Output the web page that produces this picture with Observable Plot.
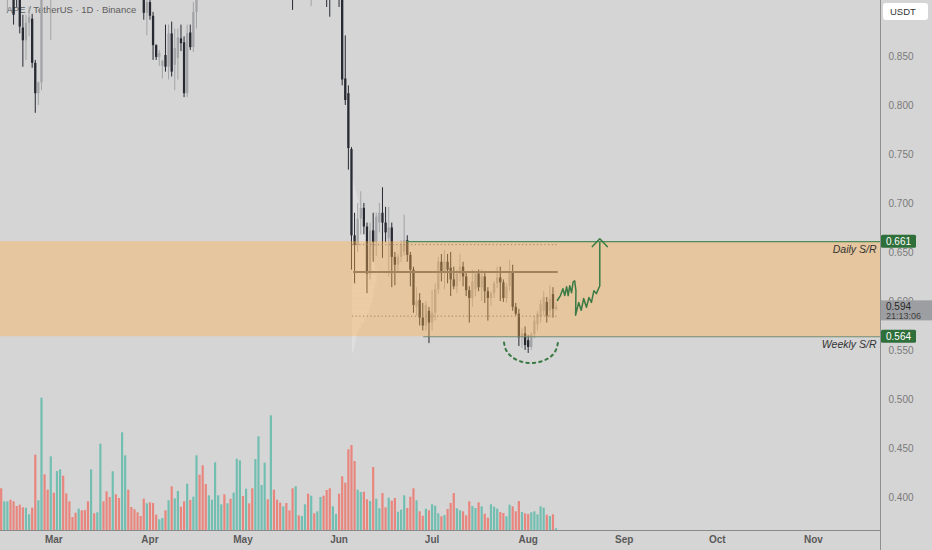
<!DOCTYPE html>
<html><head><meta charset="utf-8">
<script src="https://cdn.jsdelivr.net/npm/d3@7"></script>
<script src="https://cdn.jsdelivr.net/npm/@observablehq/plot@0.6"></script>
<style>
html,body{margin:0;padding:0;background:#d5d5d5;}
#wrap{position:relative;width:932px;height:550px;overflow:hidden;}
#wrap svg{position:absolute;left:0;top:0;}
</style></head><body><div id="wrap"></div>
<script>
// ---------- DATA ----------
const title = "APE / TetherUS · 1D · Binance";
const startDay = Date.UTC(2025, 1, 12); // first candle: Feb 12
const open = [.960,.935,.950,.955,.925,.925,.915,.879,.866,.884,
.888,.843,.812,.823,.935,.925,.912,.960,.940,.990,
1.03,1.00,.980,.960,.950,.940,.970,.960,.950,.935,
.990,.980,.990,1.06,1.04,1.01,.990,1.05,1.02,1.00,
1.08,1.12,1.06,1.02,.980,.950,.935,.894,.905,.891,
.861,.849,.840,.851,.839,.873,.841,.848,.868,.864,
.812,.874,.859,.895,.960,.950,.940,.930,.960,.990,
1.05,1.07,1.09,1.06,1.08,1.05,1.08,1.13,1.17,1.13,
1.16,1.13,1.08,1.13,1.20,1.22,1.26,1.20,1.30,1.22,
1.15,1.08,1.10,1.04,.990,.940,1.00,.970,.980,1.00,
.960,.980,.960,.970,.990,.970,.950,.930,.940,.950,
.935,.827,.812,.755,.667,.657,.684,.695,.676,.628,
.672,.660,.680,.690,.680,.664,.675,.645,.637,.645,
.650,.662,.647,.632,.594,.601,.583,.575,.590,.578,
.588,.612,.640,.630,.640,.634,.622,.615,.628,.635,
.625,.611,.603,.612,.628,.614,.625,.610,.603,.608,
.618,.624,.619,.603,.615,.630,.594,.587,.563,.567,
.560,.553,.566,.576,.584,.590,.599,.590,.607,.592];
const high = [.975,.960,.965,.958,.930,.930,.925,.892,.892,.900,
.893,.846,.824,.950,.960,.940,.980,.970,1.00,1.05,
1.04,1.01,.990,.970,.960,.980,.975,.970,.960,1.00,
1.00,1.00,1.08,1.07,1.05,1.02,1.07,1.06,1.03,1.10,
1.15,1.13,1.07,1.03,.990,.960,.940,.920,.910,.895,
.862,.856,.846,.882,.882,.885,.878,.878,.882,.870,
.882,.882,.905,.980,.970,.960,.945,.970,1.00,1.07,
1.09,1.10,1.10,1.09,1.09,1.10,1.15,1.19,1.18,1.18,
1.17,1.14,1.15,1.23,1.25,1.29,1.27,1.33,1.31,1.23,
1.16,1.12,1.11,1.05,1.00,1.02,1.01,.990,1.02,1.01,
.990,.990,.980,1.00,1.00,.980,.960,.950,.960,.960,
.950,.871,.820,.757,.690,.700,.712,.700,.680,.680,
.690,.690,.700,.716,.696,.696,.680,.650,.648,.662,
.688,.667,.650,.635,.614,.608,.598,.600,.594,.611,
.618,.645,.648,.652,.648,.650,.635,.632,.648,.640,
.630,.615,.632,.630,.632,.632,.630,.614,.610,.620,
.635,.635,.622,.618,.642,.637,.598,.592,.572,.574,
.565,.568,.585,.590,.601,.610,.604,.616,.614,.598];
const low = [.925,.915,.895,.915,.882,.900,.873,.839,.846,.870,
.838,.792,.800,.815,.915,.908,.866,.930,.930,.980,
.990,.970,.950,.940,.930,.930,.950,.940,.925,.930,
.970,.975,.980,1.03,1.00,.980,.985,1.01,.990,.990,
1.06,1.05,1.01,.970,.940,.925,.887,.871,.887,.846,
.846,.840,.827,.834,.826,.829,.815,.826,.855,.808,
.808,.856,.854,.878,.940,.925,.915,.925,.950,.985,
1.04,1.06,1.05,1.05,1.04,1.04,1.07,1.12,1.12,1.12,
1.12,1.07,1.07,1.12,1.18,1.20,1.18,1.18,1.20,1.12,
1.05,1.05,1.02,.960,.897,.930,.950,.950,.960,.940,
.901,.940,.930,.950,.950,.900,.890,.910,.920,.900,
.820,.800,.734,.632,.618,.650,.668,.668,.608,.622,
.640,.646,.670,.644,.660,.625,.614,.616,.630,.640,
.646,.640,.615,.588,.585,.575,.570,.570,.557,.570,
.580,.607,.620,.612,.618,.605,.612,.608,.620,.615,
.605,.578,.594,.605,.610,.600,.598,.580,.595,.603,
.613,.600,.599,.598,.610,.590,.585,.554,.552,.550,
.547,.550,.562,.570,.578,.585,.578,.583,.583,.590];
const close = [.935,.950,.955,.925,.892,.910,.880,.866,.884,.890,
.843,.812,.823,.935,.925,.912,.960,.940,.990,1.03,
1.00,.980,.960,.950,.940,.970,.960,.950,.935,.990,
.980,.990,1.06,1.04,1.01,.990,1.05,1.02,1.00,1.08,
1.12,1.06,1.02,.980,.950,.935,.894,.905,.891,.861,
.849,.853,.845,.839,.873,.834,.858,.869,.863,.812,
.873,.859,.895,.960,.950,.940,.930,.960,.990,1.05,
1.07,1.09,1.06,1.08,1.05,1.08,1.13,1.17,1.13,1.16,
1.13,1.08,1.13,1.20,1.22,1.26,1.20,1.30,1.22,1.15,
1.08,1.10,1.04,.990,.940,1.00,.970,.980,1.00,.960,
.980,.960,.970,.990,.970,.950,.930,.940,.950,.935,
.826,.805,.756,.667,.657,.684,.695,.676,.628,.672,
.660,.686,.690,.680,.670,.675,.645,.637,.645,.658,
.662,.647,.632,.596,.600,.583,.575,.596,.578,.588,
.612,.640,.630,.640,.632,.622,.615,.628,.635,.625,
.611,.603,.620,.628,.614,.625,.610,.603,.608,.618,
.624,.619,.603,.615,.630,.594,.587,.563,.567,.555,
.553,.566,.580,.587,.597,.604,.585,.602,.592,.594];
const volume = [41.7,28.7,28.7,30.3,28.7,24,25.3,22.7,22.3,15.7,
22.3,75.3,29.7,132.3,55.7,40.3,73.7,37.3,59,60.7,
54.3,36.7,28.7,13,17.3,21.3,19.7,20,28.7,60.7,
16.7,17.7,86.3,28.7,38.7,33,58.7,35.7,32,97.7,
74.7,40.3,23,20.7,17.7,14,31.3,26.7,27.7,27,
15.3,10.7,12,19.7,29.7,43.7,31.7,39,23.3,28.7,
46.3,30,33.3,74.7,55.3,64.7,46,34.7,30.3,67.7,
34.7,25.7,35.7,26.7,31.3,37.3,71.3,69.7,34,41.3,
26.7,41.7,71,93.7,45,67.3,30.7,114.7,40.3,30.3,
27.3,23.7,27,19.7,41.7,43.7,14.7,14,25.7,36.3,
34.3,16.7,18.7,33,34.3,40,41.7,23.7,16,36.3,
53.7,47.3,80.7,85,69,40.3,38,38.3,30.7,29,
63,31.3,21.7,37,22.7,32.3,29.3,32,18.3,20.3,
34.7,22,33.3,41.7,29.7,18.7,14.3,21.3,19.7,25.7,
24.3,16.7,13.7,15,21,27,37,21.7,19.7,18.7,
14.7,28.7,24,22,27.7,23.7,16.3,12.3,25.7,23.3,
21.3,18,17,13.7,25.3,23.7,18.7,29,18,16.7,
16,17.7,18.7,15.7,23.7,22.3,15.3,14,15.7,1.7];

// price ticks & levels
const priceTicks = [0.40,0.45,0.50,0.55,0.60,0.65,0.70,0.75,0.80,0.85];
const dailySR = 0.661, weeklySR = 0.564, lastPrice = 0.594, countdown = "21:13:06", currency = "USDT";
const dailyFromDay = 131, weeklyFromDay = 136.3;
const pocPrice = 0.630, vaHigh = 0.658, vaLow = 0.585, profileFromDay = 113.3, profileToDay = 179.7;
// visible-range volume profile (price level, length in days)
const profilePrice = [0.550,0.555,0.560,0.565,0.570,0.575,0.580,0.585,0.590,0.595,0.600,0.605,0.610,0.615,0.620,0.625,0.630,0.635,0.640,0.645,0.650,0.655,0.660,0.665,0.670,0.675,0.680,0.685,0.690,0.695,0.700,0.705,0.710,0.715,0.720];
const profileDays  = [0.6,0.9,1.2,1.6,2.2,3.0,4.0,5.0,5.5,6.0,6.5,7.0,7.0,7.5,8.0,8.0,8.5,7.5,7.0,6.5,6.0,5.5,5.5,6.0,5.5,5.0,4.5,4.0,3.5,2.8,2.2,1.8,1.4,1.0,0.7];
// hand-drawn projection (days from first candle, price)
const pathDays   = [179.4,180.4,181.2,181.8,182.4,182.9,183.4,184.0,184.5,185.0,185.4,185.3,186.3,187.1,187.9,188.8,189.6,190.4,191.2,192.0,193.1,193.1];
const pathPrices = [.601,.606,.613,.606,.615,.606,.616,.609,.620,.621,.611,.586,.599,.591,.603,.594,.604,.599,.611,.608,.616,.660];
const headDays   = [190.7,193.1,195.5];
const headPrices = [.656,.664,.656];
const arcDays    = [162.2,162.9,164.8,167.6,170.9,174.2,177.1,178.9,179.6];
const arcPrices  = [.5581,.5502,.5433,.5388,.5372,.5388,.5433,.5502,.5581];

// ---------- BUILD ----------
const DAY = 86400000;
const day = d => new Date(startDay + d * DAY);
const xDomain = [day(-0.216), day(283.65)];
const yDomain = [0.3663, 0.9071];
const UP = "#a3a4a7", DOWN = "#272a33", VUP = "#72bfb2", VDOWN = "#e8867e", GREEN = "#3b7a45";
const candles = open.map((o, i) => ({date: day(i), open: o, high: high[i], low: low[i], close: close[i], up: close[i] >= o, vol: volume[i]}));
const profile = profilePrice.map((p, i) => ({p, len: profileDays[i]}));
const toPts = (ds, ps) => ds.map((d, i) => ({x: day(d), y: ps[i]}));
const FONT = "'Liberation Sans', Arial, sans-serif";

const common = {width: 932, height: 550, marginTop: 0, marginRight: 52, marginBottom: 20, marginLeft: 0};

const main = Plot.plot({
  ...common,
  style: {background: "#d5d5d5", fontFamily: FONT, fontSize: "10px", overflow: "hidden"},
  x: {type: "utc", domain: xDomain},
  y: {domain: yDomain},
  color: {type: "identity"},
  marks: [
    Plot.text([title], {text: d => d, frameAnchor: "top-left", dx: 6, dy: 6, lineAnchor: "top", fontSize: 9.5, fill: "#5c5c5c"}),
    Plot.rect(profile, {x1: () => day(profileFromDay), x2: d => day(profileFromDay + d.len), y1: d => d.p - 0.0025, y2: d => d.p + 0.0025, fill: "#e0e0e0", fillOpacity: 0.85}),
    Plot.ruleX(candles, {x: "date", y1: "low", y2: "high", stroke: d => d.up ? UP : DOWN, strokeWidth: 1, clip: true}),
    Plot.ruleX(candles, {x: "date", y1: "open", y2: "close", stroke: d => d.up ? UP : DOWN, strokeWidth: 2.3, clip: true}),
    Plot.ruleY([pocPrice], {x1: () => day(profileFromDay + 0.4), x2: () => day(profileToDay), stroke: "#666", strokeWidth: 2}),
    Plot.ruleY([vaHigh, vaLow], {x1: () => day(profileFromDay), x2: () => day(profileToDay), stroke: "#666", strokeWidth: 1, strokeDasharray: "1.2,2.5"}),
    Plot.rect([{lo: weeklySR, hi: dailySR}], {x1: () => xDomain[0], x2: () => xDomain[1], y1: "lo", y2: "hi", fill: "#fcaf4b", fillOpacity: 0.4}),
    Plot.ruleY([dailySR], {x1: () => day(dailyFromDay), x2: () => xDomain[1], stroke: "#4e8c5a", strokeWidth: 1.2}),
    Plot.ruleY([weeklySR], {x1: () => day(weeklyFromDay), x2: () => xDomain[1], stroke: "#768a6e", strokeWidth: 1.2}),
    Plot.line(toPts(pathDays, pathPrices), {x: "x", y: "y", stroke: GREEN, strokeWidth: 1.5, strokeLinejoin: "round"}),
    Plot.line(toPts(headDays, headPrices), {x: "x", y: "y", stroke: GREEN, strokeWidth: 1.5}),
    Plot.line(toPts(arcDays, arcPrices), {x: "x", y: "y", stroke: GREEN, strokeWidth: 2, strokeDasharray: "2.5,4", curve: "natural"}),
    Plot.text([{t: "Daily S/R", y: 0.653}, {t: "Weekly S/R", y: 0.556}], {x: () => xDomain[1], y: "y", text: "t", textAnchor: "end", dx: -4, fontStyle: "italic", fontSize: 10.5, fill: "#333"}),
    Plot.axisY(priceTicks, {anchor: "right", tickSize: 0, tickPadding: 8, tickFormat: d3.format(".3f"), fontSize: 10, fill: "#7a7a7a"}),
    Plot.axisX(d3.utcMonth.range(xDomain[0], xDomain[1]), {anchor: "bottom", tickSize: 0, tickPadding: 5, tickFormat: d3.utcFormat("%b"), fontSize: 10, fontWeight: "bold", fill: "#5a5a5a"})
  ]
});

const vol = Plot.plot({
  ...common,
  style: {background: "transparent", overflow: "hidden"},
  x: {type: "utc", domain: xDomain, axis: null},
  y: {domain: [0, 140], range: [530, 390], axis: null},
  color: {type: "identity"},
  marks: [
    Plot.ruleX(candles, {x: "date", y1: 0, y2: "vol", stroke: d => d.up ? VUP : VDOWN, strokeWidth: 2.2}),
    Plot.ruleY([0], {stroke: "#8a8a8a", strokeWidth: 1})
  ]
});

const wrap = document.getElementById("wrap");
wrap.appendChild(main);
wrap.appendChild(vol);

// right-axis decorations positioned through the price scale
const ys = main.scale("y");
const py = v => ys.apply(v);
const svg = d3.select(main);
svg.append("line").attr("x1", 880.5).attr("x2", 880.5).attr("y1", 0).attr("y2", 550).attr("stroke", "#8f8f8f");
const g = svg.append("g").attr("text-anchor", "start").style("font-family", FONT).style("font-size", "10px");
// USDT box
g.append("rect").attr("x", 883).attr("y", 3).attr("width", 45).attr("height", 17).attr("rx", 3).attr("fill", "#ffffff");
g.append("text").attr("x", 890).attr("y", 15).attr("fill", "#333").style("font-size", "9.5px").text(currency);
// level boxes
[dailySR, weeklySR].forEach(v => {
  g.append("rect").attr("x", 881).attr("y", py(v) - 6.5).attr("width", 35).attr("height", 13).attr("rx", 1.5).attr("fill", "#2f6f3a");
  g.append("text").attr("x", 886).attr("y", py(v) + 3.5).attr("fill", "#ffffff").text(d3.format(".3f")(v));
});
// last price + countdown
g.append("rect").attr("x", 881).attr("y", py(lastPrice) - 6.5).attr("width", 51).attr("height", 20).attr("fill", "#9d9ea1");
g.append("text").attr("x", 886).attr("y", py(lastPrice) + 3).attr("fill", "#2a2a2a").text(d3.format(".3f")(lastPrice));
g.append("text").attr("x", 886).attr("y", py(lastPrice) + 12).attr("fill", "#404040").style("font-size", "9px").text(countdown);
</script></body></html>
